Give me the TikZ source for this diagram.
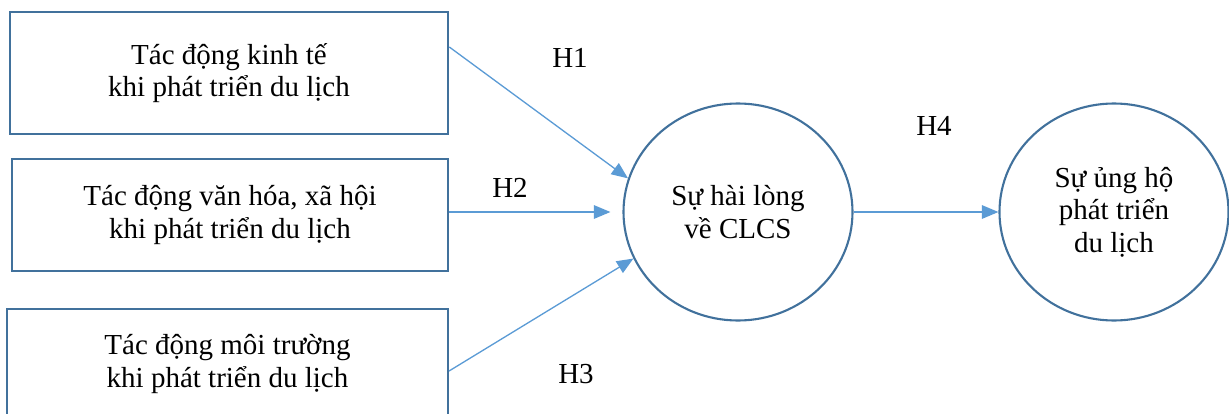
\documentclass[tikz,border=0pt]{standalone}
\usepackage{fontspec}
\setmainfont{Liberation Serif}
\usetikzlibrary{shapes.geometric, arrows.meta}
\definecolor{edgeblue}{HTML}{41719C}
\definecolor{arrowblue}{HTML}{5B9BD5}
\tikzstyle{factor} = [rectangle, minimum width=8.77cm, minimum height=2.44cm, text centered, align=center, draw=edgeblue, line width=1.2pt, font=\fontsize{16.5}{18.5}\selectfont]
\tikzstyle{construct} = [ellipse, minimum width=4.58cm, minimum height=4.34cm, text centered, align=center, draw=edgeblue, line width=1.2pt, font=\fontsize{16.5}{18.5}\selectfont]
\tikzstyle{hyp} = [font=\fontsize{16.5}{18.5}\selectfont]
\tikzstyle{arrow} = [draw=arrowblue, line width=0.75pt, -{Triangle[length=0.33cm, width=0.27cm]}, arrowblue]

\begin{document}
\begin{tikzpicture}[node distance=2.9cm]
\useasboundingbox (0,0) rectangle (24.58,-8.28);

%Boxes
\node (kinhte) [factor] at (4.58,-1.46) {Tác động kinh tế\\khi phát triển du lịch};
\node (vanhoa) [factor, below of=kinhte, minimum width=8.71cm, minimum height=2.24cm, xshift=0.02cm, yshift=0.06cm] {Tác động văn hóa, xã hội\\khi phát triển du lịch};
\node (moitruong) [factor, below of=vanhoa, minimum width=8.82cm, minimum height=2.2cm, xshift=-0.05cm, yshift=-0.08cm] {Tác động môi trường\\khi phát triển du lịch};
%Circles
\node (hailong) [construct, right of=vanhoa, xshift=7.26cm, yshift=0.06cm] {Sự hài lòng\\về CLCS};
\node (ungho) [construct, right of=hailong, xshift=4.62cm] {Sự ủng hộ\\phát triển\\du lịch};

%arrows
\draw [arrow] ([yshift=0.52cm]kinhte.east) -- (hailong.163);
\draw [arrow, shorten >=0.24cm] (vanhoa.east |- hailong.west) -- (hailong.west);
\draw [arrow] ([yshift=-0.14cm]moitruong.east) -- (hailong.204);
\draw [arrow] (hailong) -- (ungho);

%labels
\node (h1) [hyp] at (11.40,-1.16) {H1};
\node (h2) [hyp] at (10.20,-3.75) {H2};
\node (h3) [hyp] at (11.52,-7.48) {H3};
\node (h4) [hyp] at (18.68,-2.52) {H4};

\end{tikzpicture}
\end{document}
